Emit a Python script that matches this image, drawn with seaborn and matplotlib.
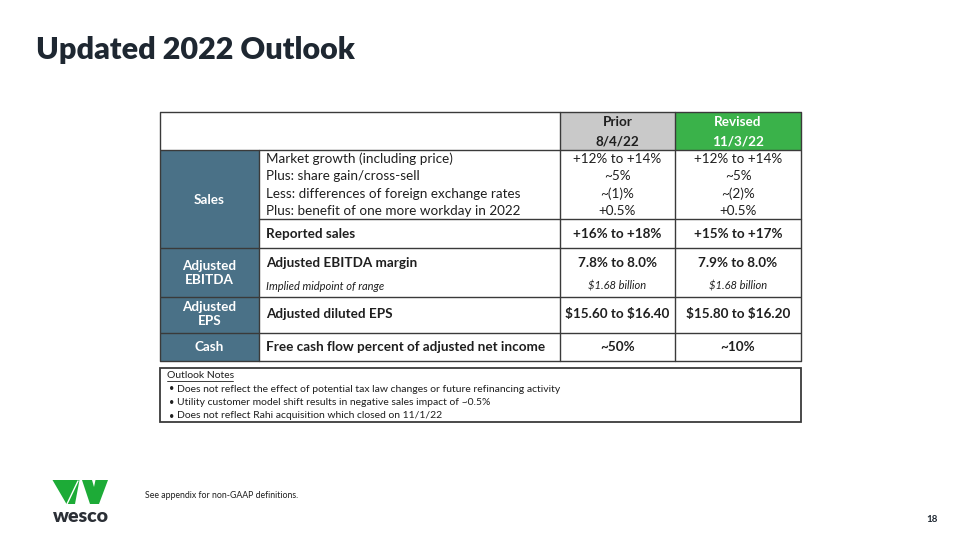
import matplotlib
matplotlib.use("Agg")
import matplotlib.pyplot as plt
from matplotlib.patches import Rectangle, Polygon
import seaborn as sns

title = "Updated 2022 Outlook"
col_headers = ["Prior", "Revised"]
col_dates = ["8/4/22", "11/3/22"]
sections = ["Sales", "Adjusted\nEBITDA", "Adjusted\nEPS", "Cash"]

sales_items = [
    "Market growth (including price)",
    "Plus: share gain/cross-sell",
    "Less: differences of foreign exchange rates",
    "Plus: benefit of one more workday in 2022",
]
sales_prior = ["+12% to +14%", "~5%", "~(1)%", "+0.5%"]
sales_revised = ["+12% to +14%", "~5%", "~(2)%", "+0.5%"]

bold_rows = [
    "Reported sales",
    "Adjusted EBITDA margin",
    "Adjusted diluted EPS",
    "Free cash flow percent of adjusted net income",
]
bold_prior = ["+16% to +18%", "7.8% to 8.0%", "$15.60 to $16.40", "~50%"]
bold_revised = ["+15% to +17%", "7.9% to 8.0%", "$15.80 to $16.20", "~10%"]

implied_label = "Implied midpoint of range"
implied_prior = "$1.68 billion"
implied_revised = "$1.68 billion"

notes_title = "Outlook Notes"
notes = [
    "Does not reflect the effect of potential tax law changes or future refinancing activity",
    "Utility customer model shift results in negative sales impact of ~0.5%",
    "Does not reflect Rahi acquisition which closed on 11/1/22",
]
footnote = "See appendix for non-GAAP definitions."
page_no = "18"

sns.set_theme(style="white")
plt.rcParams["font.family"] = ["Lato", "DejaVu Sans"]
plt.rcParams["text.parse_math"] = False

BLUE = "#4A7187"
GREEN = "#3AB24A"
GRAY = "#C9C9C9"
INK = "#1F1F1F"
NAVY = "#1E2731"
LINE = "#3A3A3A"

fig = plt.figure(figsize=(9.6, 5.4), dpi=100)
ax = fig.add_axes([0, 0, 1, 1])
ax.set_xlim(0, 960)
ax.set_ylim(540, 0)
ax.axis("off")

ax.text(36, 50, title, fontsize=22, fontweight="heavy", color=NAVY, va="center", ha="left")

# table geometry (pixels)
x0, x1, x2, x3, x4 = 160, 259, 560, 675, 801
top, hdr, y_sales_end = 112, 150, 248
y_detail_end = 219
y_ebitda_end, y_eps_end, bottom = 297, 333, 361
cx_prior, cx_rev = (x2 + x3) / 2, (x3 + x4) / 2

ax.add_patch(Rectangle((x2, top), x3 - x2, hdr - top, color=GRAY, lw=0))
ax.add_patch(Rectangle((x3, top), x4 - x3, hdr - top, color=GREEN, lw=0))
ax.add_patch(Rectangle((x0, hdr), x1 - x0, bottom - hdr, color=BLUE, lw=0))

lw = 1.0
for y in [top, hdr, y_sales_end, y_ebitda_end, y_eps_end, bottom]:
    ax.plot([x0, x4], [y, y], color=LINE, lw=lw, solid_capstyle="butt")
ax.plot([x1, x4], [y_detail_end, y_detail_end], color=LINE, lw=lw)
for x in [x0, x2, x3, x4]:
    ax.plot([x, x], [top, bottom], color=LINE, lw=lw)
ax.plot([x1, x1], [hdr, bottom], color=LINE, lw=lw)

fs = 9.7
for cx, h, d, c in [(cx_prior, col_headers[0], col_dates[0], INK),
                    (cx_rev, col_headers[1], col_dates[1], "white")]:
    ax.text(cx, 122, h, fontsize=fs, fontweight="bold", color=c, ha="center", va="center")
    ax.text(cx, 141, d, fontsize=fs, fontweight="bold", color=c, ha="center", va="center")

# section labels
sec_y = [200, 273, 314, 347]
for s, y in zip(sections, sec_y):
    ax.text((x0 + x1) / 2, y, s, fontsize=fs, fontweight="bold", color="white",
            ha="center", va="center", linespacing=1.25)

# sales detail rows
detail_y = [159, 176, 193.5, 211]
for y, lab, p, r in zip(detail_y, sales_items, sales_prior, sales_revised):
    ax.text(266, y, lab, fontsize=fs, color=INK, va="center")
    ax.text(cx_prior, y, p, fontsize=fs, color=INK, va="center", ha="center")
    ax.text(cx_rev, y, r, fontsize=fs, color=INK, va="center", ha="center")

# bold rows
bold_y = [234, 263, 314, 347]
for y, lab, p, r in zip(bold_y, bold_rows, bold_prior, bold_revised):
    ax.text(266, y, lab, fontsize=fs, fontweight="bold", color=INK, va="center")
    ax.text(cx_prior, y, p, fontsize=fs, fontweight="bold", color=INK, va="center", ha="center")
    ax.text(cx_rev, y, r, fontsize=fs, fontweight="bold", color=INK, va="center", ha="center")

ax.text(266, 286, implied_label, fontsize=8, style="italic", color=INK, va="center")
ax.text(cx_prior, 286, implied_prior, fontsize=8, style="italic", color=INK, va="center", ha="center")
ax.text(cx_rev, 286, implied_revised, fontsize=8, style="italic", color=INK, va="center", ha="center")

# notes box
ax.add_patch(Rectangle((x0, 368), x4 - x0, 54, fill=False, ec=LINE, lw=1.3))
nf = 7.5
ax.text(167, 376, notes_title, fontsize=nf, color=INK, va="center")
ax.plot([167, 233], [381, 381], color=INK, lw=0.6)
for i, n in enumerate(notes):
    y = 389 + i * 13.5
    ax.text(169, y, "\u2022", fontsize=nf - 1, color=INK, va="center")
    ax.text(177, y, n, fontsize=nf, color=INK, va="center")

# logo
logo_green = "#1DAB37"
ax.add_patch(Polygon([(52.5, 480), (79.5, 480), (75, 504), (66.5, 504)],
                     closed=True, color=logo_green, lw=0))
ax.add_patch(Polygon([(82, 480), (92, 480), (94, 487), (95.5, 480), (108, 480), (99, 504), (90, 504)],
                     closed=True, color=logo_green, lw=0))
ax.plot([67, 78], [504, 481], color="white", lw=1.0)
ax.text(80.5, 517, "wesco", fontsize=14, fontweight="heavy", color="#2B2F36", ha="center", va="center")

ax.text(145, 495, footnote, fontsize=6.3, color=INK, va="center")
ax.text(932, 520, page_no, fontsize=7, fontweight="bold", color=NAVY, ha="center", va="center")

fig.savefig("out.png", dpi=100)
